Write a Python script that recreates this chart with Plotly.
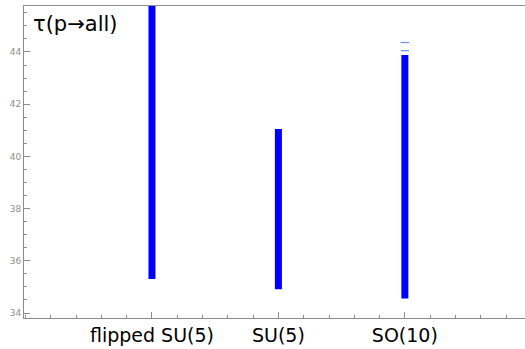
import plotly.graph_objects as go

# GUT models and the spread of predicted proton lifetimes (log10 of years)
models = ["flipped SU(5)", "SU(5)", "SO(10)"]
model_pos = [1, 2, 3]
tau_low = [35.3, 34.91, 34.56]
tau_high = [46.5, 41.05, 43.88]

# isolated upper scan points above the SO(10) band
so10_outliers = [44.05, 44.36]

fig = go.Figure()

for pos, lo, hi in zip(model_pos, tau_low, tau_high):
    fig.add_trace(go.Scatter(
        x=[pos, pos], y=[lo, hi], mode="lines",
        line=dict(color="#0000ff", width=7),
        hoverinfo="skip", showlegend=False,
    ))

fig.add_trace(go.Scatter(
    x=[model_pos[2]] * len(so10_outliers), y=so10_outliers, mode="markers",
    marker=dict(symbol="line-ew", size=6, line=dict(color="#6f8fe6", width=1.2)),
    hoverinfo="skip", showlegend=False,
))

fig.add_annotation(
    text="τ(p→all)", x=0, y=1, xref="paper", yref="paper",
    xanchor="left", yanchor="top", xshift=7, yshift=-4, showarrow=False,
    font=dict(family="DejaVu Sans", size=21, color="black"),
)

axis_common = dict(
    showgrid=False, zeroline=False, showline=True, linecolor="#8c8c8c",
    linewidth=1, mirror=True, ticks="inside", tickcolor="#8c8c8c",
    automargin=False,
)

fig.update_xaxes(
    **axis_common, range=[-0.012, 3.95], tickvals=model_pos, ticktext=models,
    ticklen=6, ticklabelstandoff=0,
    tickfont=dict(family="DejaVu Sans", size=19, color="black"),
    minor=dict(dtick=0.2, tick0=0, ticks="inside", ticklen=3, tickcolor="#8c8c8c"),
)
fig.update_yaxes(
    **axis_common, range=[33.81, 45.76], dtick=2, tick0=34, ticklen=6,
    tickfont=dict(family="DejaVu Sans", size=9, color="#8c8c8c"),
    minor=dict(dtick=0.5, ticks="inside", ticklen=3, tickcolor="#8c8c8c"),
)

fig.update_layout(
    width=525, height=349, margin=dict(l=24, r=0, t=6, b=31),
    plot_bgcolor="white", paper_bgcolor="white",
)

fig.write_html("out.html")
